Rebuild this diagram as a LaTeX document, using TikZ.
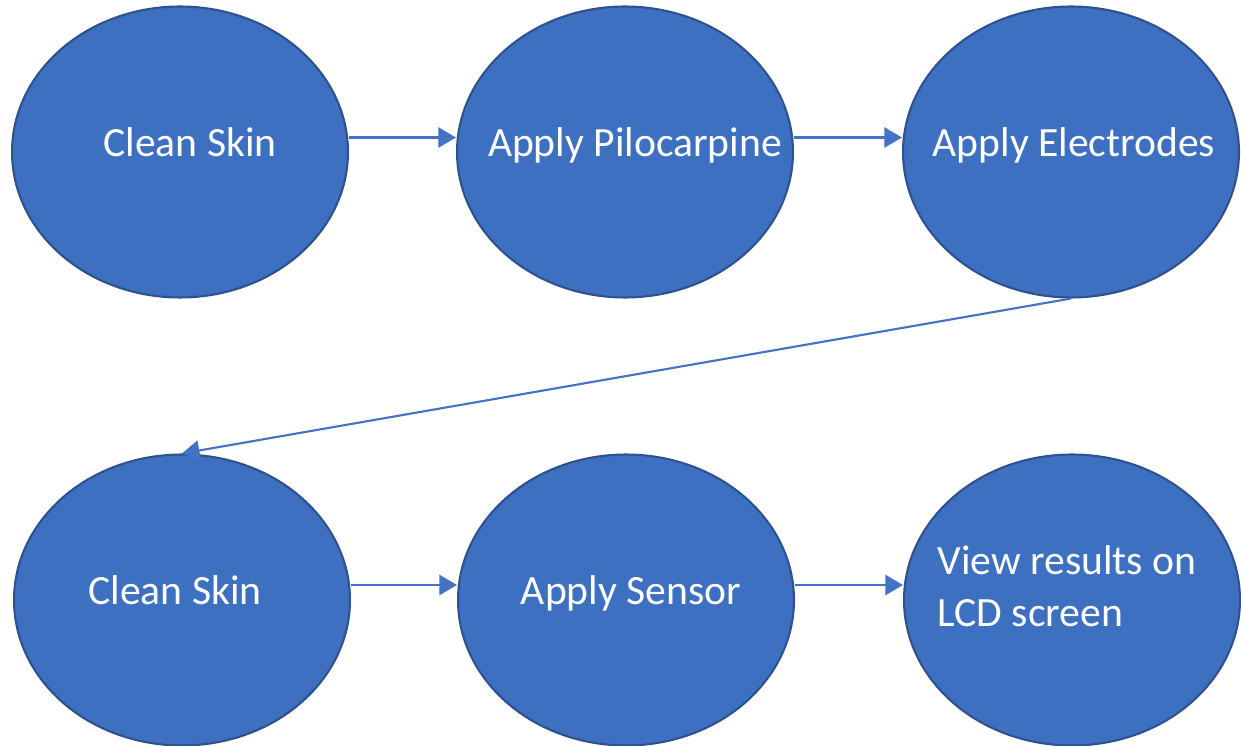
\documentclass[tikz,border=0pt]{standalone}
\usepackage{fontspec}
\setmainfont{Carlito}
\usetikzlibrary{arrows.meta,shapes.geometric}
\definecolor{stagefill}{HTML}{3D70C1}
\definecolor{stageline}{HTML}{2F528F}
\definecolor{flow}{HTML}{4472C4}
\tikzset{
  stage/.style={ellipse,draw=stageline,line width=1.2pt,fill=stagefill,
    minimum width=6.72cm,minimum height=5.82cm,inner sep=0pt},
  stagetext/.style={text=white,font=\fontsize{23.7}{29.5}\selectfont,inner sep=0pt},
  oneline/.style={stagetext,text height=0.7em,text depth=0.2em},
  flowarrow/.style={-{Triangle[length=0.35cm,width=0.4cm]},draw=flow,line width=1.2pt}
}

\begin{document}
\begin{tikzpicture}[x=0.02cm,y=-0.02cm]
\useasboundingbox (0,0) rectangle (1241,746);
% top row, left to right
\node[stage,label={[oneline,xshift=0.2cm]center:Clean Skin}] (skinA) at (180,152) {};
\node[stage,label={[oneline,xshift=0.2cm]center:Apply Pilocarpine}] (pilo) at (625,152) {};
\node[stage,label={[oneline,xshift=0.06cm]center:Apply Electrodes}] (elec) at (1071,152) {};
% bottom row
\node[stage,label={[oneline,xshift=-0.14cm]center:Clean Skin}] (skinB) at (182,600) {};
\node[stage,label={[oneline,xshift=0.1cm]center:Apply Sensor}] (sensor) at (626,600) {};
\node[stage,label={[stagetext,align=left,xshift=-0.1cm,yshift=0.27cm]center:View results on\\LCD screen}] (lcd) at (1072,600) {};
% connectors
\draw[flowarrow] ([yshift=0.29cm]skinA.east) -- ([yshift=0.29cm]pilo.west);
\draw[flowarrow] ([yshift=0.29cm]pilo.east) -- ([yshift=0.29cm]elec.west);
\draw[flowarrow] (elec.south) -- (skinB.north);
\draw[flowarrow] ([yshift=0.3cm]skinB.east) -- ([yshift=0.3cm]sensor.west);
\draw[flowarrow] ([yshift=0.3cm]sensor.east) -- ([yshift=0.3cm]lcd.west);
\end{tikzpicture}
\end{document}
